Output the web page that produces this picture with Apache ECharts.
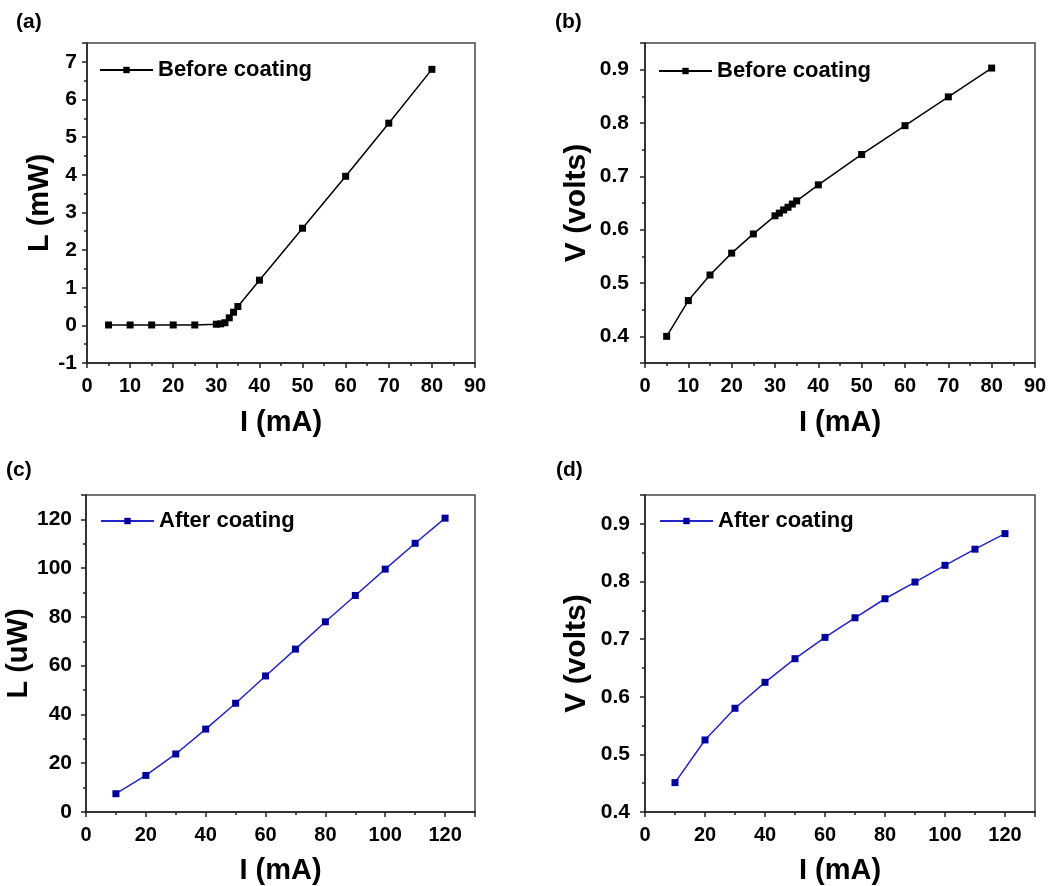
<!DOCTYPE html>
<html>
<head>
<meta charset="utf-8">
<script src="https://cdn.jsdelivr.net/npm/echarts@6/dist/echarts.min.js"></script>
<style>
html,body{margin:0;padding:0;background:#fff;}
#chart{width:1056px;height:886px;}
</style>
</head>
<body>
<div id="chart"></div>
<script>
// ---- data ----
const currentBefore = [5, 10, 15, 20, 25, 30, 31, 32, 33, 34, 35, 40, 50, 60, 70, 80];
const powerBefore   = [0.01, 0.01, 0.01, 0.01, 0.01, 0.03, 0.04, 0.07, 0.2, 0.35, 0.5, 1.2, 2.58, 3.96, 5.37, 6.8];
const voltBefore    = [0.400, 0.467, 0.515, 0.556, 0.592, 0.626, 0.631, 0.637, 0.642, 0.648, 0.654, 0.684, 0.741, 0.795, 0.849, 0.903];

const currentAfter = [10, 20, 30, 40, 50, 60, 70, 80, 90, 100, 110, 120];
const powerAfter   = [7.5, 15.0, 23.8, 34.0, 44.6, 55.8, 66.8, 78.0, 88.8, 99.6, 110.2, 120.5];
const voltAfter    = [0.451, 0.525, 0.580, 0.625, 0.666, 0.703, 0.737, 0.770, 0.799, 0.828, 0.856, 0.883];

const panelLabels = ['(a)', '(b)', '(c)', '(d)'];
const seriesNames = ['Before coating', 'After coating'];
const xTitle = 'I (mA)';
const yTitles = ['L (mW)', 'V (volts)', 'L (uW)', 'V (volts)'];

// ---- styling ----
const FONT = '"Liberation Sans", Arial, sans-serif';
const BLACK = '#000';
const BLUE_LINE = '#2323c8';
const BLUE_MARK = '#00009c';
const AXIS_COL = '#222';

const grids = [
  {left: 87, top: 43, width: 388, height: 320},
  {left: 645, top: 43, width: 390, height: 320},
  {left: 86, top: 495, width: 389, height: 318},
  {left: 645, top: 495, width: 390, height: 318}
];

function pairs(xs, ys) { return xs.map((x, i) => [x, ys[i]]); }

function niceFmt(step, dec) {
  return function (v) {
    const k = v / step;
    if (Math.abs(k - Math.round(k)) > 1e-6) return '';
    return dec ? v.toFixed(dec) : String(Math.round(v));
  };
}

function axisCommon(isX, margin, titleSize) {
  return {
    axisLine: {show: true, onZero: false, lineStyle: {color: AXIS_COL, width: 1.5}},
    axisTick: {show: true, inside: false, length: 5, lineStyle: {color: AXIS_COL, width: 1.5}},
    minorTick: {show: true, splitNumber: 2, length: 3, lineStyle: {color: AXIS_COL, width: 1.5}},
    splitLine: {show: false},
    minorSplitLine: {show: false},
    axisLabel: {color: BLACK, fontFamily: FONT, fontWeight: 'bold', fontSize: isX ? 20 : 21, margin: margin},
    nameTextStyle: {color: BLACK, fontFamily: FONT, fontWeight: 'bold', fontSize: titleSize},
    nameLocation: 'middle'
  };
}

const xAxes = [
  Object.assign(axisCommon(true, 13, 29), {gridIndex: 0, type: 'value', min: 0, max: 90, interval: 10, name: xTitle, nameGap: 45}),
  Object.assign(axisCommon(true, 13, 29), {gridIndex: 1, type: 'value', min: 0, max: 90, interval: 10, name: xTitle, nameGap: 45}),
  Object.assign(axisCommon(true, 13, 29), {gridIndex: 2, type: 'value', min: 0, max: 130, splitNumber: 6, name: xTitle, nameGap: 44}),
  Object.assign(axisCommon(true, 13, 29), {gridIndex: 3, type: 'value', min: 0, max: 130, splitNumber: 6, name: xTitle, nameGap: 44})
];
xAxes[2].axisLabel.formatter = niceFmt(20, 0);
xAxes[3].axisLabel.formatter = niceFmt(20, 0);

const yAxes = [
  Object.assign(axisCommon(false, 10, 29), {gridIndex: 0, type: 'value', min: -1, max: 7.5, splitNumber: 8, name: yTitles[0], nameGap: 32}),
  Object.assign(axisCommon(false, 16, 30), {gridIndex: 1, type: 'value', min: 0.35, max: 0.95, splitNumber: 6, name: yTitles[1], nameGap: 53}),
  Object.assign(axisCommon(false, 14, 29), {gridIndex: 2, type: 'value', min: 0, max: 130, splitNumber: 6, name: yTitles[2], nameGap: 49}),
  Object.assign(axisCommon(false, 15, 30), {gridIndex: 3, type: 'value', min: 0.4, max: 0.95, splitNumber: 5, name: yTitles[3], nameGap: 53})
];
yAxes[0].axisLabel.formatter = niceFmt(1, 0);
yAxes[1].axisLabel.formatter = niceFmt(0.1, 1);
yAxes[2].axisLabel.formatter = niceFmt(20, 0);
yAxes[3].axisLabel.formatter = niceFmt(0.1, 1);

function lineSeries(idx, name, xs, ys, lineCol, markCol) {
  return {
    type: 'line', name: name, xAxisIndex: idx, yAxisIndex: idx,
    data: pairs(xs, ys),
    symbol: 'rect', symbolSize: 7,
    showAllSymbol: true,
    lineStyle: {color: lineCol, width: 1.5},
    itemStyle: {color: markCol},
    animation: false
  };
}

const legendPos = [
  {left: 94, top: 54},
  {left: 653, top: 55},
  {left: 95, top: 505},
  {left: 654, top: 505}
];
const legends = legendPos.map((p, i) => ({
  left: p.left, top: p.top,
  data: [{name: seriesNames[i < 2 ? 0 : 1]}],
  itemWidth: 53, itemHeight: 8, itemGap: 5,
  selectedMode: false,
  textStyle: {color: BLACK, fontFamily: FONT, fontWeight: 'bold', fontSize: 22}
}));

const labelPos = [[16, 12], [555, 12], [6, 460], [556, 460]];
const graphics = panelLabels.map((t, i) => ({
  type: 'text', left: labelPos[i][0], top: labelPos[i][1],
  style: {text: t, fill: BLACK, font: 'bold 21px ' + FONT}
}));

const chart = echarts.init(document.getElementById('chart'), null, {renderer: 'canvas'});
chart.setOption({
  backgroundColor: '#fff',
  animation: false,
  grid: grids.map(g => Object.assign({show: true, borderColor: '#444', borderWidth: 1.5, backgroundColor: 'transparent'}, g)),
  xAxis: xAxes,
  yAxis: yAxes,
  legend: legends,
  graphic: graphics,
  series: [
    lineSeries(0, seriesNames[0], currentBefore, powerBefore, BLACK, BLACK),
    lineSeries(1, seriesNames[0], currentBefore, voltBefore, BLACK, BLACK),
    lineSeries(2, seriesNames[1], currentAfter, powerAfter, BLUE_LINE, BLUE_MARK),
    lineSeries(3, seriesNames[1], currentAfter, voltAfter, BLUE_LINE, BLUE_MARK)
  ]
});
</script>
</body>
</html>
